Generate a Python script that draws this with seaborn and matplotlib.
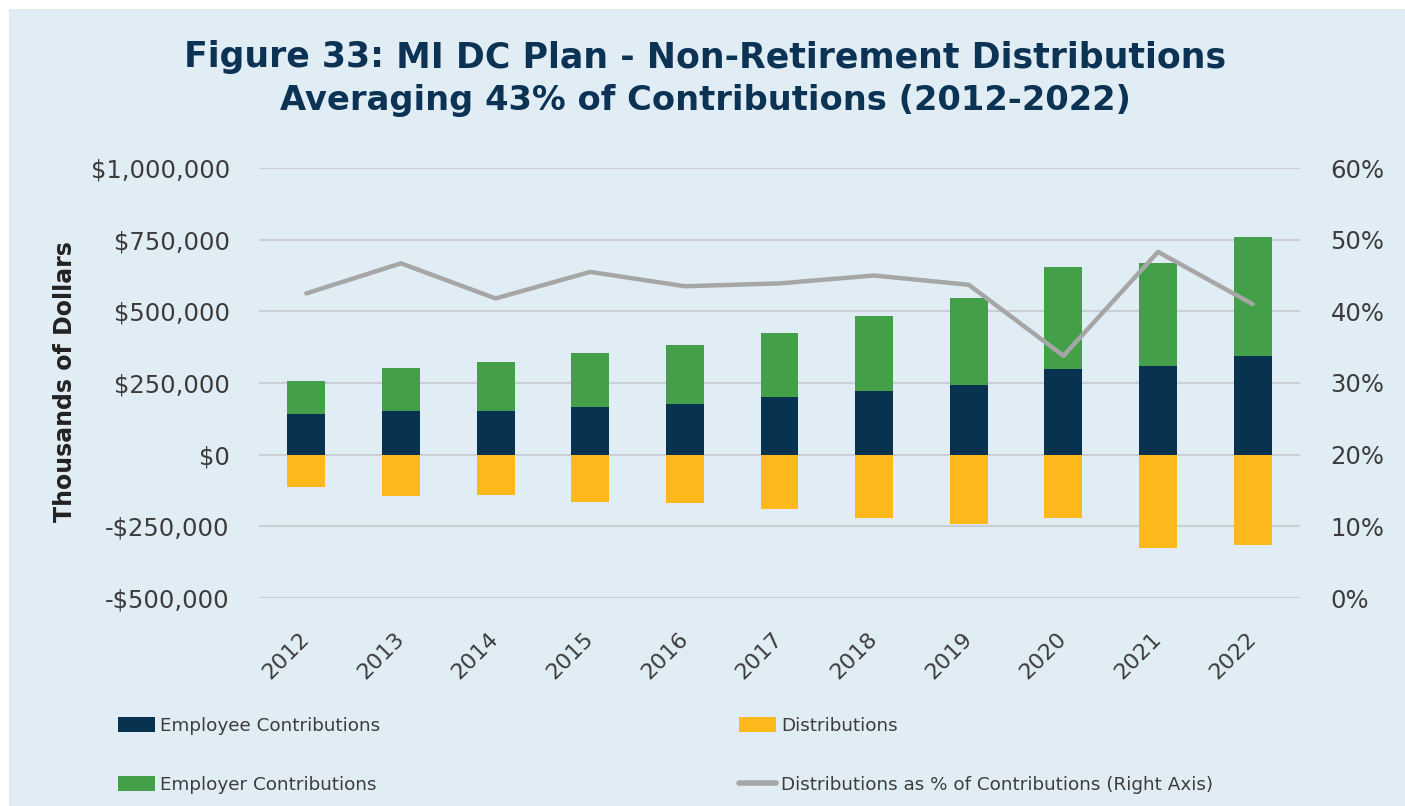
import numpy as np
import pandas as pd
import matplotlib
matplotlib.use("Agg")
import matplotlib.pyplot as plt
import seaborn as sns
from matplotlib.patches import Patch, Rectangle
from matplotlib.lines import Line2D
from matplotlib.ticker import FuncFormatter

# ---------------- data ----------------
years = ["2012", "2013", "2014", "2015", "2016", "2017", "2018", "2019", "2020", "2021", "2022"]
employee_contrib = [142000, 152000, 152000, 165000, 175000, 200000, 223000, 244000, 299000, 310000, 343000]
employer_contrib = [116000, 150000, 172000, 190000, 207000, 226000, 261000, 302000, 354000, 358000, 418000]
distributions = [-114000, -145000, -139000, -166000, -170000, -190000, -221000, -242000, -221000, -327000, -314000]
dist_pct = [42.5, 46.7, 41.8, 45.5, 43.5, 43.9, 45.0, 43.7, 33.8, 48.3, 41.0]

left_ticks = [-500000, -250000, 0, 250000, 500000, 750000, 1000000]
right_ticks = [0, 10, 20, 30, 40, 50, 60]

title_bold = "Figure 33:"
title_rest = " MI DC Plan - Non-Retirement Distributions"
title_line2 = "Averaging 43% of Contributions (2012-2022)"
ylabel = "Thousands of Dollars"
legend_labels = ["Employee Contributions", "Employer Contributions",
                 "Distributions", "Distributions as % of Contributions (Right Axis)"]

# ---------------- style ----------------
NAVY = "#073351"
GREEN = "#43a048"
ORANGE = "#fdb81b"
GRAY_LINE = "#a6a6a6"
GRID = "#c9cfd4"
BG = "#e1edf5"
TITLE_C = "#0c3354"
TXT = "#3c3c3c"

sns.set_theme(style="white")
plt.rcParams["font.family"] = ["DejaVu Sans"]

W, H = 1405, 806
fig = plt.figure(figsize=(W / 100, H / 100), dpi=100)
fig.patch.set_facecolor("white")
fig.patches.append(Rectangle((9 / W, -0.01), 1.02, 1.01 - 9 / H, transform=fig.transFigure,
                             facecolor=BG, edgecolor="none", zorder=-10))

ax = fig.add_axes([259 / W, 1 - 598 / H, (1300 - 259) / W, (598 - 168) / H])
ax.set_facecolor("none")

df = pd.DataFrame({
    "year": years,
    "total": np.array(employee_contrib) + np.array(employer_contrib),
    "employee": employee_contrib,
    "dist": distributions,
})

common = dict(data=df, x="year", ax=ax, width=0.4, saturation=1, linewidth=0, errorbar=None, zorder=3)
sns.barplot(y="total", color=GREEN, **common)
sns.barplot(y="employee", color=NAVY, **common)
sns.barplot(y="dist", color=ORANGE, **common)

ax.set_xlim(-0.5, len(years) - 0.5)
ax.set_ylim(-500000, 1000000)
ax.set_yticks(left_ticks)
ax.yaxis.set_major_formatter(FuncFormatter(lambda v, p: ("-" if v < 0 else "") + "${:,.0f}".format(abs(v))))
ax.grid(axis="y", color=GRID, lw=1.6, zorder=0)
ax.grid(axis="x", visible=False)
ax.set_axisbelow(True)
for s in ax.spines.values():
    s.set_visible(False)
ax.tick_params(axis="both", length=0, labelsize=17.5, labelcolor=TXT)
ax.tick_params(axis="y", pad=21)
ax.tick_params(axis="x", pad=27, labelsize=16)
for lbl in ax.get_xticklabels():
    lbl.set_rotation(45)
    lbl.set_ha("right")
    lbl.set_va("center")
    lbl.set_rotation_mode("anchor")
ax.set_xlabel("")
ax.set_ylabel("")

ax2 = ax.twinx()
ax2.set_facecolor("none")
sns.lineplot(x=years, y=dist_pct, ax=ax2, color=GRAY_LINE, lw=3.2, sort=False)
ax2.set_ylim(0, 60)
ax2.set_yticks(right_ticks)
ax2.yaxis.set_major_formatter(FuncFormatter(lambda v, p: "{:.0f}%".format(v)))
ax2.grid(False)
for s in ax2.spines.values():
    s.set_visible(False)
ax2.tick_params(axis="y", length=0, labelsize=17.5, labelcolor=TXT, pad=22)
ax2.set_ylabel("")
ax2.set_xlim(-0.5, len(years) - 0.5)

# y label
fig.text(65 / W, 1 - 382 / H, ylabel, rotation=90, ha="center", va="center",
         fontsize=17, fontweight="bold", color="#222222")

# ---------------- title ----------------
renderer = fig.canvas.get_renderer()
fs = 22
t1 = fig.text(0, 0, title_bold, fontsize=fs, fontweight="heavy", color=TITLE_C, va="baseline")
t2 = fig.text(0, 0, title_rest, fontsize=fs, fontweight="bold", color=TITLE_C, va="baseline")
w = t1.get_window_extent(renderer).width + t2.get_window_extent(renderer).width
fs = fs * 1040 / w
t1.set_fontsize(fs)
t2.set_fontsize(fs)
w1 = t1.get_window_extent(renderer).width
w2 = t2.get_window_extent(renderer).width
x0 = 705 - (w1 + w2) / 2
t1.set_position((x0 / W, 1 - 67 / H))
t2.set_position(((x0 + w1) / W, 1 - 67 / H))
t3 = fig.text(705 / W, 1 - 110 / H, title_line2, fontsize=fs, fontweight="bold", color=TITLE_C,
              ha="center", va="baseline")
w3 = t3.get_window_extent(renderer).width
t3.set_fontsize(fs * 850 / w3)

# ---------------- legend ----------------
leg_kw = dict(loc="center left", frameon=False, fontsize=13.2, handlelength=2.0, handleheight=0.85,
              handletextpad=0.3, labelspacing=2.25, borderpad=0, borderaxespad=0, labelcolor=TXT)
h1 = [Patch(facecolor=NAVY, edgecolor="none"), Patch(facecolor=GREEN, edgecolor="none")]
h2 = [Patch(facecolor=ORANGE, edgecolor="none"), Line2D([0], [0], color=GRAY_LINE, lw=4)]
fig.legend(handles=h1, labels=legend_labels[:2], bbox_to_anchor=(118 / W, 1 - 755.5 / H), **leg_kw)
fig.legend(handles=h2, labels=legend_labels[2:], bbox_to_anchor=(739 / W, 1 - 755.5 / H), **leg_kw)

fig.savefig("out.png", dpi=100, facecolor="white")
